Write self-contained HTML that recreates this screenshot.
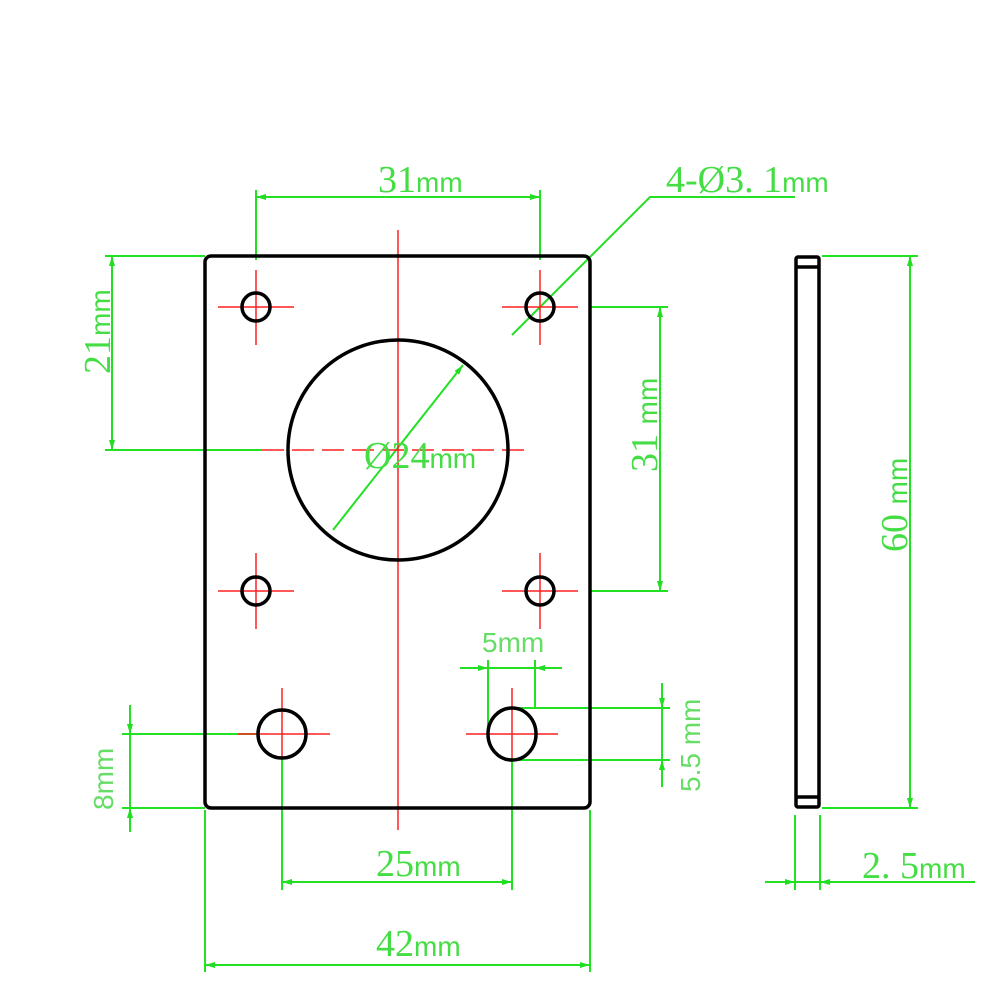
<!DOCTYPE html>
<html><head><meta charset="utf-8"><style>html,body{margin:0;padding:0;background:#fff}svg{display:block}</style></head>
<body>
<svg width="1002" height="1002" viewBox="0 0 1002 1002" xmlns="http://www.w3.org/2000/svg">
<defs>
<marker id="a" viewBox="0 0 10 6" refX="10" refY="3" markerWidth="10" markerHeight="6" orient="auto-start-reverse" markerUnits="userSpaceOnUse"><path d="M0,0 L10,3 L0,6 z" fill="#22dd22"/></marker>
</defs>
<g stroke="#22e022" stroke-width="2" fill="none">
<line x1="256" y1="190" x2="256" y2="260"/><line x1="540" y1="190" x2="540" y2="260"/>
<line x1="256" y1="197" x2="540" y2="197" marker-start="url(#a)" marker-end="url(#a)"/>
<polyline points="512,335 650,197 795,197"/>
<line x1="105" y1="256" x2="205" y2="256"/><line x1="105" y1="450" x2="262" y2="450"/>
<line x1="112" y1="256" x2="112" y2="450" marker-start="url(#a)" marker-end="url(#a)"/>
<line x1="590" y1="307" x2="668" y2="307"/><line x1="590" y1="591" x2="668" y2="591"/>
<line x1="660" y1="307" x2="660" y2="591" marker-start="url(#a)" marker-end="url(#a)"/>
<line x1="822" y1="256" x2="918" y2="256"/><line x1="822" y1="808" x2="918" y2="808"/>
<line x1="910" y1="256" x2="910" y2="808" marker-start="url(#a)" marker-end="url(#a)"/>
<line x1="333" y1="530" x2="463" y2="365" marker-end="url(#a)"/>
<line x1="488" y1="660" x2="488" y2="734"/><line x1="535" y1="660" x2="535" y2="708"/>
<line x1="460" y1="668" x2="488" y2="668" marker-end="url(#a)"/><line x1="488" y1="668" x2="535" y2="668"/><line x1="562" y1="668" x2="535" y2="668" marker-end="url(#a)"/>
<line x1="515" y1="708" x2="670" y2="708"/><line x1="515" y1="760" x2="670" y2="760"/>
<line x1="662" y1="683" x2="662" y2="708" marker-end="url(#a)"/><line x1="662" y1="708" x2="662" y2="760"/><line x1="662" y1="787" x2="662" y2="760" marker-end="url(#a)"/>
<line x1="122" y1="734" x2="258" y2="734"/><line x1="122" y1="808" x2="205" y2="808"/>
<line x1="130" y1="705" x2="130" y2="734" marker-end="url(#a)"/><line x1="130" y1="734" x2="130" y2="808"/><line x1="130" y1="832" x2="130" y2="808" marker-end="url(#a)"/>
<line x1="282" y1="758" x2="282" y2="890"/><line x1="512" y1="758" x2="512" y2="890"/>
<line x1="282" y1="882" x2="512" y2="882" marker-start="url(#a)" marker-end="url(#a)"/>
<line x1="205" y1="810" x2="205" y2="972"/><line x1="590" y1="810" x2="590" y2="972"/>
<line x1="205" y1="965" x2="590" y2="965" marker-start="url(#a)" marker-end="url(#a)"/>
<line x1="795" y1="815" x2="795" y2="890"/><line x1="820" y1="815" x2="820" y2="890"/>
<line x1="765" y1="882" x2="795" y2="882" marker-end="url(#a)"/><line x1="795" y1="882" x2="820" y2="882"/><line x1="975" y1="882" x2="820" y2="882" marker-end="url(#a)"/>
</g>
<g stroke="#ff2020" stroke-width="1.5" fill="none">
<line x1="398" y1="230" x2="398" y2="830"/>
<line x1="262" y1="450" x2="530" y2="450" stroke-dasharray="22,8"/>
<line x1="256" y1="270" x2="256" y2="345"/><line x1="218" y1="307" x2="294" y2="307"/>
<line x1="540" y1="270" x2="540" y2="345"/><line x1="502" y1="307" x2="578" y2="307"/>
<line x1="256" y1="553" x2="256" y2="629"/><line x1="218" y1="591" x2="294" y2="591"/>
<line x1="540" y1="553" x2="540" y2="629"/><line x1="502" y1="591" x2="578" y2="591"/>
<line x1="282" y1="688" x2="282" y2="758"/><line x1="238" y1="734" x2="330" y2="734"/>
<line x1="512" y1="688" x2="512" y2="758"/><line x1="466" y1="734" x2="558" y2="734"/>
</g>
<g stroke="#000" stroke-width="3.5" fill="none">
<rect x="205" y="256" width="385" height="552" rx="6"/>
<circle cx="256" cy="307" r="14"/><circle cx="540" cy="307" r="14"/>
<circle cx="256" cy="591" r="14"/><circle cx="540" cy="591" r="14"/>
<circle cx="398" cy="450" r="110"/>
<circle cx="282" cy="734" r="24"/>
<ellipse cx="512" cy="734" rx="24" ry="26"/>
<rect x="796" y="257" width="23" height="550" rx="2"/>
<line x1="796" y1="267" x2="819" y2="267"/><line x1="796" y1="797" x2="819" y2="797"/>
</g>
<g fill="#44dd44" font-family="'Liberation Serif',serif" font-size="38">
<text x="378" y="192">31<tspan font-family="'Liberation Sans',sans-serif" font-size="28">mm</tspan></text>
<text x="666" y="192">4-Ø3. 1<tspan font-family="'Liberation Sans',sans-serif" font-size="28">mm</tspan></text>
<text transform="translate(110,374) rotate(-90)">21<tspan font-family="'Liberation Sans',sans-serif" font-size="28">mm</tspan></text>
<text transform="translate(657,472) rotate(-90)">31 <tspan font-family="'Liberation Sans',sans-serif" font-size="28">mm</tspan></text>
<text transform="translate(907,552) rotate(-90)">60 <tspan font-family="'Liberation Sans',sans-serif" font-size="28">mm</tspan></text>
<text x="364" y="468">Ø24<tspan font-family="'Liberation Sans',sans-serif" font-size="28">mm</tspan></text>
<text x="862" y="878">2. 5<tspan font-family="'Liberation Sans',sans-serif" font-size="28">mm</tspan></text>
<text x="376" y="876">25<tspan font-family="'Liberation Sans',sans-serif" font-size="28">mm</tspan></text>
<text x="376" y="956">42<tspan font-family="'Liberation Sans',sans-serif" font-size="28">mm</tspan></text>
</g>
<g fill="#66dd66" font-family="'Liberation Sans',sans-serif" font-size="28">
<text x="482" y="652">5mm</text>
<text transform="translate(700,792) rotate(-90)">5.5 mm</text>
<text transform="translate(113,810) rotate(-90)">8mm</text>
</g>
</svg>
</body></html>
